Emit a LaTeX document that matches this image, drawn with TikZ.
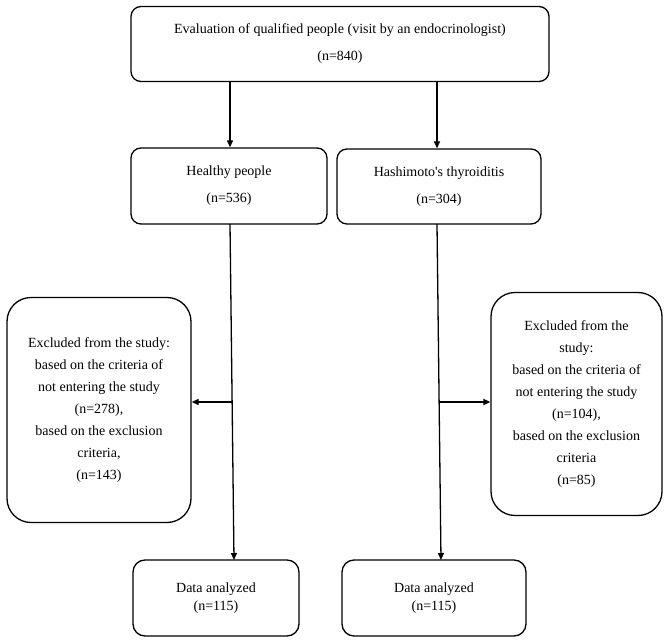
\documentclass[tikz,border=0pt]{standalone}
\usepackage{fontspec}
\setmainfont{Liberation Serif}
\usetikzlibrary{arrows.meta}
\begin{document}
\begin{tikzpicture}[x=1pt,y=-1pt,
  box/.style={draw,line width=1.3pt,rounded corners=10pt,align=center,inner sep=0pt,font=\fontsize{14}{27}\selectfont},
  exbox/.style={box,rounded corners=24pt,font=\fontsize{14}{22}\selectfont},
  dbox/.style={box,rounded corners=12pt,font=\fontsize{14}{18}\selectfont},
  conn/.style={line width=1.3pt},
  arr/.style={conn,-{Triangle[length=7pt,width=6pt]}}]
\useasboundingbox (0,0) rectangle (669,644);
\node[box,minimum width=418pt,minimum height=75pt] (top) at (340,44) {Evaluation of qualified people (visit by an endocrinologist)\\(n=840)};
\node[box,minimum width=196pt,minimum height=76pt] (hp) at (229,186) {Healthy people\\(n=536)};
\node[box,minimum width=204pt,minimum height=75pt] (ht) at (439,186.5) {Hashimoto\textquotesingle s thyroiditis\\(n=304)};
\node[exbox,minimum width=184pt,minimum height=225pt] (exl) at (99,410) {Excluded from the study:\\based on the criteria of\\not entering the study\\(n=278),\\based on the exclusion\\criteria,\\(n=143)};
\node[exbox,minimum width=171pt,minimum height=223pt] (exr) at (576.5,404) {Excluded from the\\study:\\based on the criteria of\\not entering the study\\(n=104),\\based on the exclusion\\criteria\\(n=85)};
\node[dbox,minimum width=166pt,minimum height=76pt] (dl) at (216,598) {Data analyzed\\(n=115)};
\node[dbox,minimum width=184pt,minimum height=76pt] (dr) at (434,598) {Data analyzed\\(n=115)};
\coordinate (lt) at (230,224);
\coordinate (lb) at (234,560);
\coordinate (rt) at (437,224);
\coordinate (rb) at (441,560);
\coordinate (lm) at (232,402);
\coordinate (rm) at (439,402);
\draw[arr] (top.south -| lt) -- (hp.north -| lt);
\draw[arr] (top.south -| rt) -- (ht.north -| rt);
\draw[arr] (lt) -- (lb);
\draw[arr] (rt) -- (rb);
\draw[arr] (lm) -- (lm -| exl.east);
\draw[arr] (rm) -- (rm -| exr.west);
\end{tikzpicture}
\end{document}
